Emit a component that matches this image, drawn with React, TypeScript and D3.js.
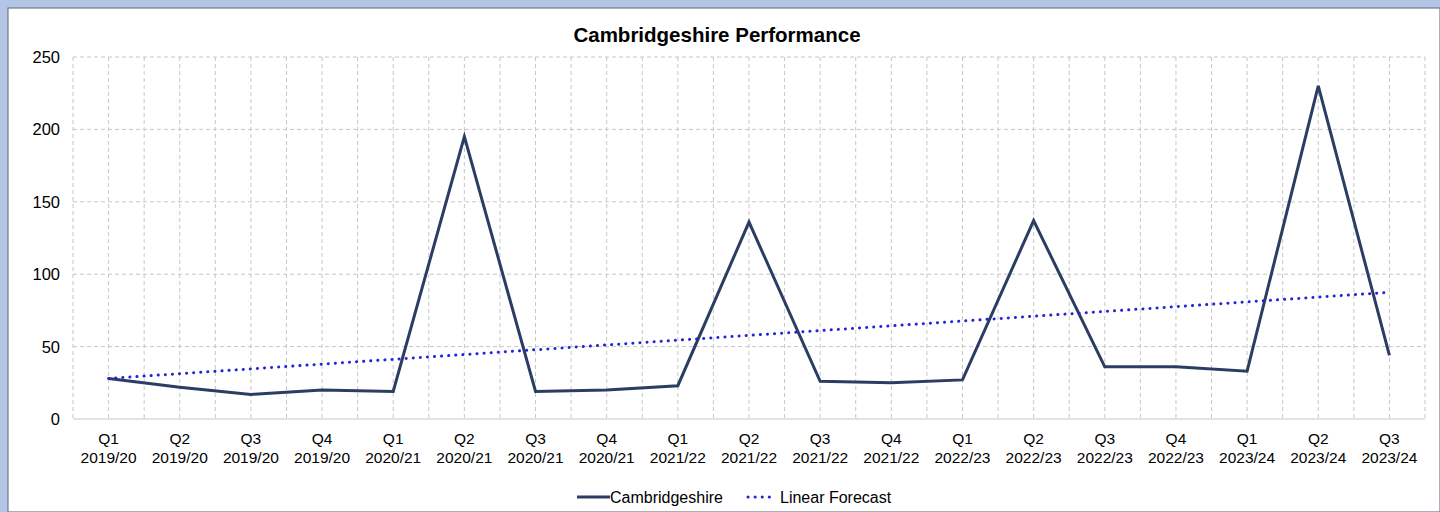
import React from "react";
import * as d3 from "d3";

const quarters = ["Q1","Q2","Q3","Q4","Q1","Q2","Q3","Q4","Q1","Q2","Q3","Q4","Q1","Q2","Q3","Q4","Q1","Q2","Q3"];
const years = ["2019/20","2019/20","2019/20","2019/20","2020/21","2020/21","2020/21","2020/21","2021/22","2021/22","2021/22","2021/22","2022/23","2022/23","2022/23","2022/23","2023/24","2023/24","2023/24"];
const cambridgeshire = [28,22,17,20,19,195,19,20,23,136,26,25,27,137,36,36,33,230,44];
const forecastEnds = [28, 87.5];
const yTicks = [0,50,100,150,200,250];

const W = 1440, H = 512;
const font = "Arial, 'Liberation Sans', sans-serif";

export default function App() {
  const left = 73, right = 1425, top = 57, bottom = 419;
  const keys = quarters.map((_, i) => String(i));
  const x = d3.scaleBand<string>().domain(keys).range([left, right]).padding(0);
  const y = d3.scaleLinear().domain([0, 250]).range([bottom, top]);
  const cx = (i: number) => (x(String(i)) as number) + x.bandwidth() / 2;
  const line = d3.line<number>().x((_, i) => cx(i)).y(d => y(d));
  const n = cambridgeshire.length;
  const fLine = d3.line<number>().x((_, i) => (i === 0 ? cx(0) : cx(n - 1))).y(d => y(d));

  const vGrid: number[] = [];
  keys.forEach((k, i) => {
    vGrid.push(x(k) as number);
    vGrid.push(cx(i));
  });
  vGrid.push(right);

  return (
    <svg width={W} height={H} style={{ position: "absolute", left: 0, top: 0, display: "block" }}>
      <rect x={0} y={0} width={W} height={H} fill="#b4c5e6" />
      <rect x={8} y={8} width={W - 8} height={H - 8} fill="#ffffff" stroke="#6f7a8c" strokeWidth={1.2} />
      <text x={717} y={42} textAnchor="middle" fontFamily={font} fontWeight="bold" fontSize={20.5} fill="#000">Cambridgeshire Performance</text>
      {yTicks.map(t => (
        <g key={"y" + t}>
          {t > 0 && <line x1={left} x2={right} y1={y(t)} y2={y(t)} stroke="#c6c6c6" strokeWidth={1} strokeDasharray="4,3" />}
          <text x={60} y={y(t) + 6} textAnchor="end" fontFamily={font} fontSize={16.5} fill="#000">{t}</text>
        </g>
      ))}
      {vGrid.map((gx, i) => (
        <line key={"v" + i} x1={gx} x2={gx} y1={top} y2={bottom} stroke="#c6c6c6" strokeWidth={1} strokeDasharray="4,3" />
      ))}
      <line x1={left} x2={right} y1={bottom} y2={bottom} stroke="#d9d9d9" strokeWidth={1.5} />
      {quarters.map((q, i) => (
        <text key={"x" + i} textAnchor="middle" fontFamily={font} fontSize={15.5} fill="#000">
          <tspan x={cx(i)} y={444}>{q}</tspan>
          <tspan x={cx(i)} y={463}>{years[i]}</tspan>
        </text>
      ))}
      <path d={line(cambridgeshire) || ""} fill="none" stroke="#2c3d63" strokeWidth={3} strokeLinejoin="miter" />
      <path d={fLine(forecastEnds) || ""} fill="none" stroke="#2424d6" strokeWidth={3} strokeDasharray="0.1,7" strokeLinecap="round" />
      <line x1={577} x2={610} y1={497} y2={497} stroke="#2c3d63" strokeWidth={3} />
      <text x={610} y={503} fontFamily={font} fontSize={16} fill="#000">Cambridgeshire</text>
      <line x1={748} x2={774} y1={497} y2={497} stroke="#2424d6" strokeWidth={3} strokeDasharray="0.1,7" strokeLinecap="round" />
      <text x={780} y={503} fontFamily={font} fontSize={16} fill="#000">Linear Forecast</text>
    </svg>
  );
}
